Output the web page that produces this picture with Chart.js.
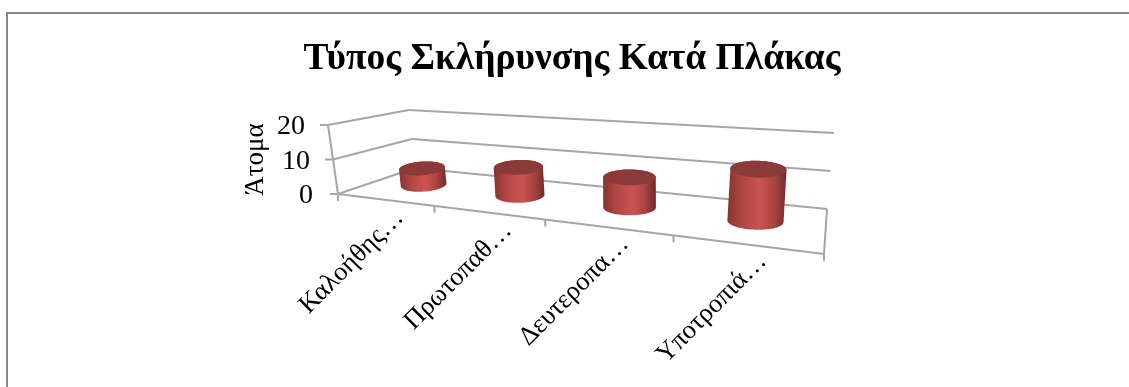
<!DOCTYPE html>
<html>
<head>
<meta charset="utf-8">
<style>
html, body { margin: 0; padding: 0; background: #fff; overflow: hidden; }
#wrap { position: relative; width: 1129px; height: 387px; }
#frame { position: absolute; left: 6px; top: 12px; right: 0; bottom: 0; border-top: 2px solid #888; border-left: 2px solid #888; }
canvas { position: absolute; left: 0; top: 0; filter: blur(0.4px); }
</style>
<script src="https://cdn.jsdelivr.net/npm/chart.js@4"></script>
</head>
<body>
<div id="wrap">
  <div id="frame"></div>
  <canvas id="chart" width="1129" height="387"></canvas>
</div>
<script>
// Data
const categories = ['Καλοήθης…', 'Πρωτοπαθ…', 'Δευτεροπα…', 'Υποτροπιά…'];
const values = [5, 8, 8, 13];
const yTicks = [0, 10, 20];

const FONT = '"Liberation Serif", "Times New Roman", serif';
const GRID = '#a6a6a6';

// Corners of the 3D box on screen (front/back, left/right), floor and top of the value axis
const floorQuad = [[338, 194], [824, 254], [827, 209], [415, 168]];
const topQuad = [[328, 125], [832, 164], [834, 133], [410, 110]];
// Uprights all run towards this point below the picture
const VANISH = [638, 2263];
// hand fitted: the x labels do not sit evenly in the source picture
const labelShift = [[-2, -1], [3, -1], [1, -2], [0, -2]];

// unit square -> quad
function squareToQuad(q) {
    const [x0, y0] = q[0], [x1, y1] = q[1], [x2, y2] = q[2], [x3, y3] = q[3];
    const sx = x0 - x1 + x2 - x3, sy = y0 - y1 + y2 - y3;
    const dx1 = x1 - x2, dx2 = x3 - x2, dy1 = y1 - y2, dy2 = y3 - y2;
    const den = dx1 * dy2 - dx2 * dy1;
    const g = (sx * dy2 - dx2 * sy) / den, h = (dx1 * sy - sx * dy1) / den;
    const a = x1 - x0 + g * x1, b = x3 - x0 + h * x3;
    const d = y1 - y0 + g * y1, e = y3 - y0 + h * y3;
    return (u, v) => {
        const w = g * u + h * v + 1;
        return [(a * u + b * v + x0) / w, (d * u + e * v + y0) / w];
    };
}
const floorAt = squareToQuad(floorQuad);
const topAt = squareToQuad(topQuad);

// pixels from floor to the top of the value axis at this floor position
function fullHeight(u, d) {
    return floorAt(u, d)[1] - topAt(u, d)[1];
}

// u along the categories, v up the value axis, d into the depth
function project(u, v, d) {
    const f = floorAt(u, d);
    const h = fullHeight(u, d) * v;
    const lean = (f[0] - VANISH[0]) / (VANISH[1] - f[1]);
    return [f[0] + lean * h, f[1] - h];
}

function line(ctx, a, b) {
    ctx.beginPath();
    ctx.moveTo(a[0], a[1]);
    ctx.lineTo(b[0], b[1]);
    ctx.stroke();
}

function hull(points) {
    const p = points.slice().sort((a, b) => a[0] - b[0] || a[1] - b[1]);
    const cross = (o, a, b) => (a[0] - o[0]) * (b[1] - o[1]) - (a[1] - o[1]) * (b[0] - o[0]);
    const lower = [], upper = [];
    for (const q of p) {
        while (lower.length > 1 && cross(lower[lower.length - 2], lower[lower.length - 1], q) <= 0) lower.pop();
        lower.push(q);
    }
    for (const q of p.slice().reverse()) {
        while (upper.length > 1 && cross(upper[upper.length - 2], upper[upper.length - 1], q) <= 0) upper.pop();
        upper.push(q);
    }
    return lower.slice(0, -1).concat(upper.slice(0, -1));
}

function fillPoly(ctx, pts, fill) {
    ctx.beginPath();
    pts.forEach((p, i) => i ? ctx.lineTo(p[0], p[1]) : ctx.moveTo(p[0], p[1]));
    ctx.closePath();
    ctx.fillStyle = fill;
    ctx.fill();
}

// flat ellipse round a projected centre
function ellipse(center, a, b, tilt) {
    const pts = [];
    for (let i = 0; i < 72; i++) {
        const t = i / 72 * Math.PI * 2;
        const ex = a * Math.cos(t), ey = b * Math.sin(t);
        pts.push([
            center[0] + ex * Math.cos(tilt) - ey * Math.sin(tilt),
            center[1] + ex * Math.sin(tilt) + ey * Math.cos(tilt)
        ]);
    }
    return pts;
}

function drawCylinder(ctx, uc, halfWidth, v) {
    // radius follows the perspective of the value axis, not the floor
    const a = halfWidth * fullHeight(uc, 0.5) / 89;
    const tilt = (-5 + 8 * uc) * Math.PI / 180;
    const bottom = ellipse(project(uc, 0, 0.5), a, a * 0.3, tilt);
    const top = ellipse(project(uc, v, 0.5), a, a * 0.3, tilt);
    const outline = hull(bottom.concat(top));
    const xs = outline.map(p => p[0]);
    const x0 = Math.min(...xs), x1 = Math.max(...xs);
    const g = ctx.createLinearGradient(x0, 0, x1, 0);
    g.addColorStop(0, '#86342f');
    g.addColorStop(0.25, '#b04644');
    g.addColorStop(0.55, '#cb5452');
    g.addColorStop(0.8, '#a84341');
    g.addColorStop(1, '#6f2b2a');
    fillPoly(ctx, outline, g);
    fillPoly(ctx, top, '#8c3a39');
}

// Draws the box, the axes and the cylinders out of the chart's own scales
const box3d = {
    id: 'box3d',
    afterDatasetsDraw(chart) {
        const { ctx, chartArea: area, scales } = chart;
        const yScale = scales.y, xScale = scales.x;
        const uOf = px => (px - area.left) / (area.right - area.left);
        const vOf = val => (area.bottom - yScale.getPixelForValue(val)) / (area.bottom - area.top);

        ctx.save();
        ctx.strokeStyle = GRID;
        ctx.lineWidth = 2;

        // floor, walls
        line(ctx, project(0, 0, 0), project(1, 0, 0));
        line(ctx, project(1, 0, 0), project(1, 0, 1));
        line(ctx, project(0, 0, 0), project(0, 1, 0));
        yTicks.forEach(t => {
            const v = vOf(t);
            line(ctx, project(0, v, 0), project(0, v, 1));
            line(ctx, project(0, v, 1), project(1, v, 1));
            const p = project(0, v, 0);
            line(ctx, p, [p[0] - 8, p[1]]);
        });

        // x ticks
        for (let i = 0; i <= categories.length; i++) {
            const p = project(i / categories.length, 0, 0);
            line(ctx, p, [p[0], p[1] + 7]);
        }

        // cylinders
        const meta = chart.getDatasetMeta(0);
        meta.data.forEach((bar, i) => {
            drawCylinder(ctx, uOf(bar.x), bar.width / 2, vOf(values[i]));
        });

        // y tick labels
        ctx.fillStyle = '#000';
        ctx.font = '28px ' + FONT;
        ctx.textAlign = 'right';
        ctx.textBaseline = 'middle';
        yTicks.forEach(t => {
            const p = project(0, vOf(t), 0);
            ctx.fillText(String(t), p[0] - (t === 0 ? 25 : 23), p[1] + 2);
        });

        // x labels, turned 45 degrees
        ctx.font = '26.5px ' + FONT;
        categories.forEach((c, i) => {
            const p = project(uOf(xScale.getPixelForValue(i)), 0, 0);
            ctx.save();
            ctx.translate(p[0] + 17 + labelShift[i][0], p[1] + 15 + labelShift[i][1]);
            ctx.rotate(-45 * Math.PI / 180);
            ctx.textAlign = 'right';
            ctx.textBaseline = 'middle';
            ctx.fillText(c, 0, 0);
            ctx.restore();
        });
        ctx.restore();
    }
};

new Chart(document.getElementById('chart'), {
    type: 'bar',
    data: {
        labels: categories,
        datasets: [{
            label: 'Άτομα',
            data: values,
            backgroundColor: 'rgba(0,0,0,0)',
            barPercentage: 0.4,
            categoryPercentage: 1
        }]
    },
    options: {
        responsive: false,
        animation: false,
        layout: { padding: { left: 240, right: 225, top: 0, bottom: 193 } },
        plugins: {
            legend: { display: false },
            tooltip: { enabled: false },
            title: {
                display: true,
                text: 'Τύπος Σκλήρυνσης Κατά Πλάκας',
                color: '#000',
                font: { family: FONT, size: 37.5, weight: 'bold' },
                padding: { top: 37, bottom: 43 }
            }
        },
        scales: {
            x: { display: false },
            y: {
                min: 0,
                max: 20,
                afterBuildTicks: axis => { axis.ticks = yTicks.map(v => ({ value: v })); },
                grid: { display: false },
                border: { display: false },
                ticks: { display: false },
                title: {
                    display: true,
                    text: 'Άτομα',
                    color: '#000',
                    font: { family: FONT, size: 27 },
                    padding: 0
                }
            }
        }
    },
    plugins: [box3d]
});
</script>
</body>
</html>
